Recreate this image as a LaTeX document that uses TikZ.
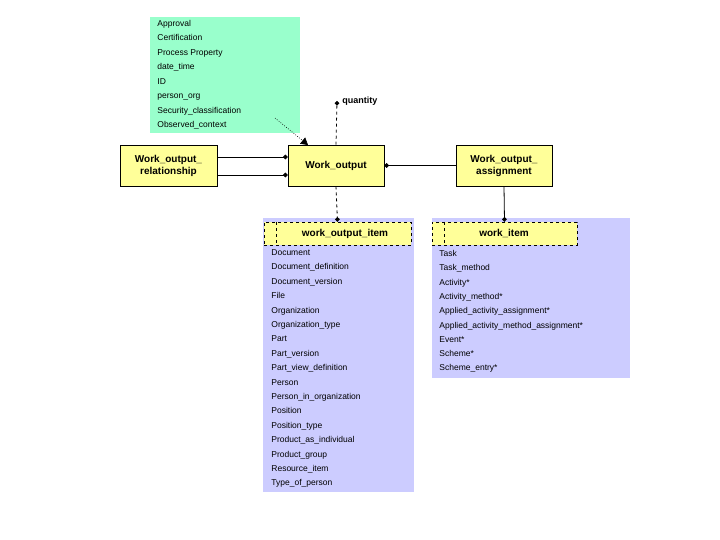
\documentclass[tikz,border=0pt]{standalone}
\usepackage{fontspec}
\setmainfont{Liberation Sans}
\usetikzlibrary{arrows.meta}
\definecolor{entfill}{HTML}{FFFF99}
\definecolor{attrfill}{HTML}{99FFCC}
\definecolor{selfill}{HTML}{CCCCFF}
\begin{document}
\begin{tikzpicture}[x=1pt,y=-1pt, line width=0.8pt,
    ent/.style = {draw, fill=entfill, font=\bfseries\fontsize{10}{12}\selectfont, align=center, inner sep=0pt},
    hdr/.style = {draw, dashed, fill=entfill, inner sep=0pt},
    item/.style = {anchor=west, font=\fontsize{8.5}{10}\selectfont, inner sep=0pt, text height=6.5pt, text depth=1.5pt},
    dotend/.style = {-{Circle[length=4.5pt]}},
    ] 
    \useasboundingbox (0,0) rectangle (720,540);
    % panels
    \fill[attrfill] (150,17) rectangle (300,133);
    \fill[selfill] (263,218) rectangle (414,492);
    \fill[selfill] (432,218) rectangle (630,378);
    \foreach \t [count=\i from 0] in {Approval,Certification,Process Property,date\_time,ID,person\_org,Security\_classification,Observed\_context}
        \node[item] at (157,24+14.5*\i) {\t};
    % entities
    \node[ent, minimum width=97, minimum height=41] (wor) at (168.5,165.5) {Work\_output\_\\relationship};
    \node[ent, minimum width=96, minimum height=41] (wo) at (336,165.5) {Work\_output};
    \node[ent, minimum width=96, minimum height=41] (woa) at (504,165.5) {Work\_output\_\\assignment};
    \node[hdr, minimum width=147, minimum height=23] (woi) at (337.5,233.5) {};
    \node[font=\bfseries\fontsize{10}{12}\selectfont] at (345,233.5) {work\_output\_item};
    \draw[dashed] (276,222) -- (276,245);
    \node[hdr, minimum width=145, minimum height=23] (wi) at (504.5,233.5) {};
    \node[font=\bfseries\fontsize{10}{12}\selectfont] at (504,233.5) {work\_item};
    \draw[dashed] (444,222) -- (444,245);
    \foreach \t [count=\i from 0] in {Document,Document\_definition,Document\_version,File,Organization,Organization\_type,Part,Part\_version,Part\_view\_definition,Person,Person\_in\_organization,Position,Position\_type,Product\_as\_individual,Product\_group,Resource\_item,Type\_of\_person}
        \node[item] at (271,253+14.4*\i) {\t};
    \foreach \t [count=\i from 0] in {Task,Task\_method,Activity*,Activity\_method*,Applied\_activity\_assignment*,Applied\_activity\_method\_assignment*,Event*,Scheme*,Scheme\_entry*}
        \node[item] at (439,254+14.3*\i) {\t};
    % connectors
    \coordinate (q) at (337,101);
    \node[anchor=west, inner sep=0pt, font=\bfseries\fontsize{9}{10}\selectfont] at (342,101) {quantity};
    \draw[dashed, dotend] (wo.north) -- (q);
    \draw[dashed, dotend] (wo.south) -- (woi.north);
    \draw[dotend] (wor.east |- 0,157) -- (wo.west |- 0,157);
    \draw[dotend] (wor.east |- 0,175) -- (wo.west |- 0,175);
    \draw[{Circle[length=4.5pt]}-] (wo.east) -- (woa.west);
    \draw[dotend] (woa.south) -- (wi.north);
    \coordinate (obs) at (275,118);
    \draw[line width=0.6pt, dash pattern=on 0.8pt off 1.6pt, -{Triangle[length=7pt,width=8pt,sep=0pt]}] (obs) -- (308,145);
\end{tikzpicture}
\end{document}
